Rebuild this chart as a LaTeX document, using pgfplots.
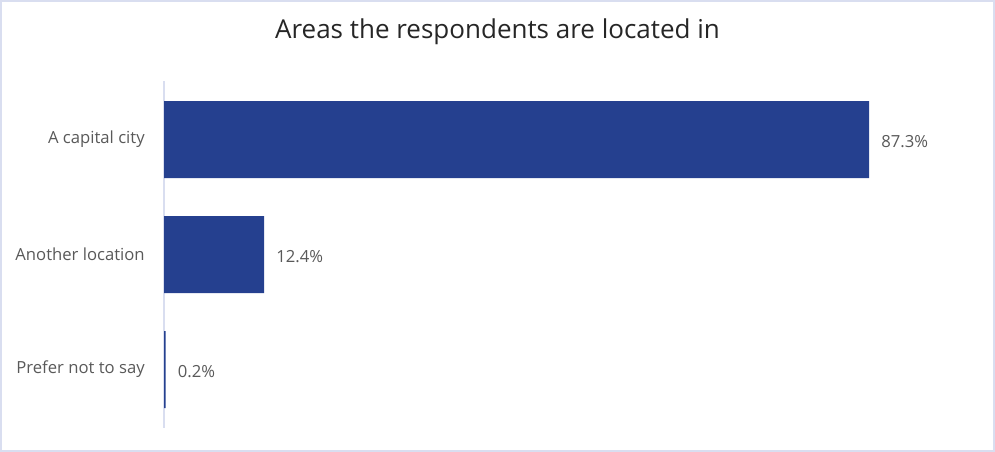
\documentclass[border=0pt]{standalone}
\usepackage{pgfplots}
\pgfplotsset{compat=1.18}
\usepackage{fontspec}
\setmainfont{Open Sans}
\definecolor{barblue}{RGB}{37,64,143}
\definecolor{labelgray}{RGB}{89,89,89}
\definecolor{titlegray}{RGB}{38,38,38}
\definecolor{framecol}{RGB}{217,222,240}

\begin{document}
\begin{tikzpicture}
\path[use as bounding box] (0,0) rectangle (746.25pt,-339pt);
\draw[framecol, line width=1.5pt] (0.75pt,-0.75pt) rectangle (745.5pt,-338.25pt);
\node[anchor=base, text=titlegray, inner sep=0pt, font=\fontsize{19.5}{23}\selectfont]
  at (373.125pt,-29pt) {Areas the respondents are located in};
\begin{axis}[
  at={(123pt,-60.75pt)}, anchor=north west,
  scale only axis, width=605.7pt, height=260.25pt,
  xbar, bar width=57.75pt,
  xmin=0, xmax=100,
  ymin=-0.5087, ymax=2.5087, y dir=reverse,
  axis x line=none,
  axis y line*=left,
  y axis line style={framecol, line width=1.5pt},
  ytick={0,1,2},
  yticklabels={A capital city, Another location, Prefer not to say},
  major tick length=0pt,
  yticklabel style={font=\fontsize{12.5}{15}\selectfont, text=labelgray, inner sep=0pt, xshift=-14.25pt},
  point meta=x,
  nodes near coords={\pgfmathprintnumber[fixed,fixed zerofill,precision=1,assume math mode=true]{\pgfplotspointmeta}\%},
  every node near coord/.append style={anchor=west, inner sep=0pt, xshift=9pt, yshift=-1.5pt,
    font=\fontsize{12.5}{15}\selectfont, text=labelgray},
  clip=false,
]
\addplot[fill=barblue, draw=none] coordinates {(87.3,0) (12.4,1) (0.2,2)};
\end{axis}
\end{tikzpicture}
\end{document}
